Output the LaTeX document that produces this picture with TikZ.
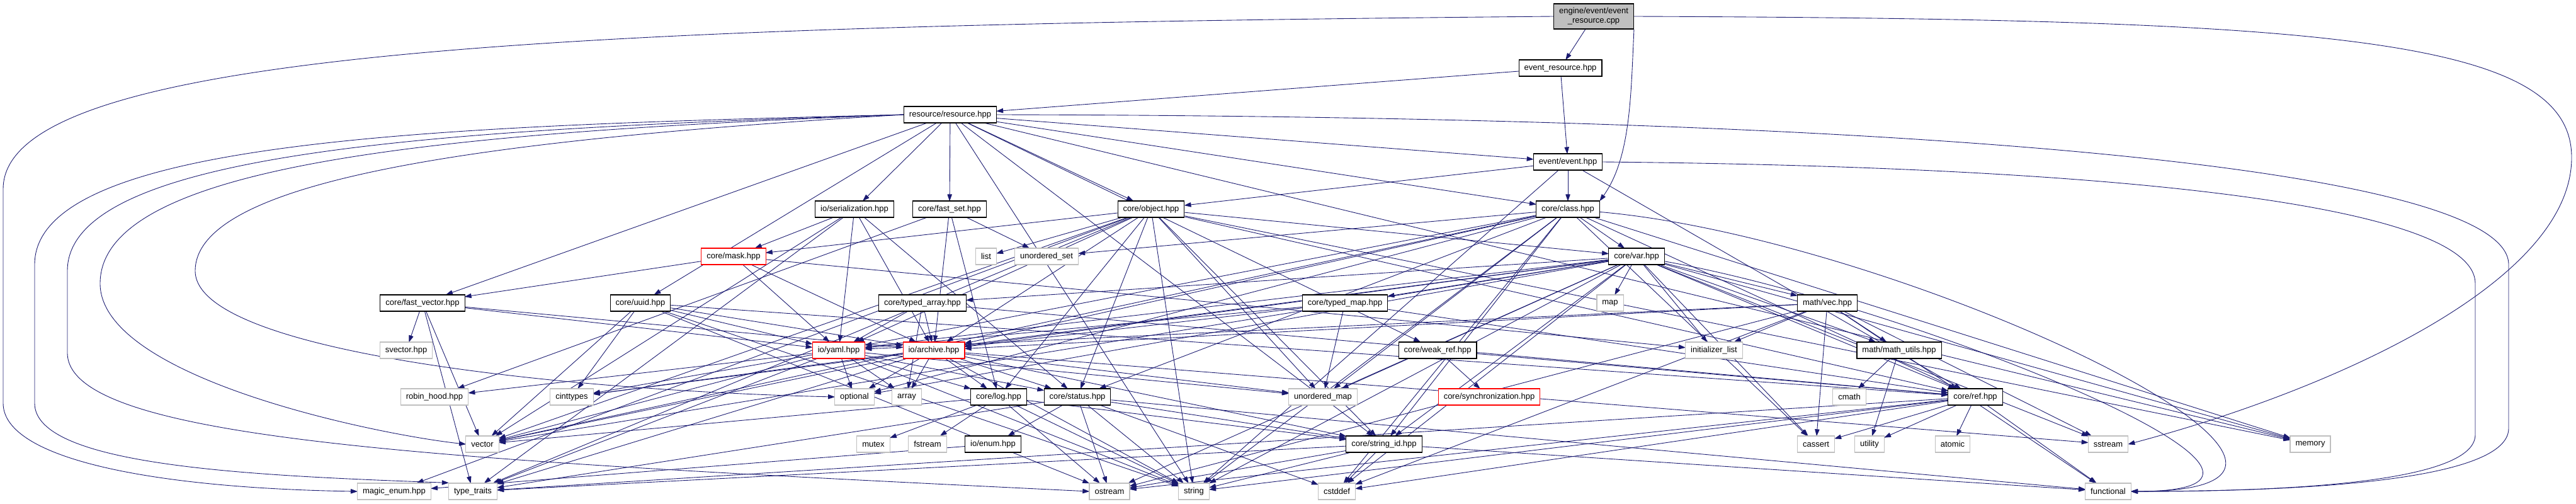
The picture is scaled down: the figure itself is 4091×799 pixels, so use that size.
\documentclass[tikz,border=0pt]{standalone}
\usepackage{fontspec}
\setmainfont{Liberation Sans}
\usepackage{tikz}
\usetikzlibrary{arrows.meta}
\definecolor{edgeblue}{RGB}{25,25,112}
\definecolor{sysgray}{RGB}{191,191,191}
\pgfdeclarelayer{bg}
\pgfsetlayers{bg,main}

\begin{document}
\begin{tikzpicture}[x=0.02cm, y=-0.02cm, ->, >={Stealth[round, inset=0pt, length=2.2mm, width=1.5mm]}, main/.style = {rectangle, draw=black, fill=white, line width=0.6pt, minimum height=0.52cm, inner xsep=0.17cm, inner ysep=0pt, font=\fontsize{7.4}{8.6}\selectfont}, sys/.style = {main, draw=sysgray, line width=0.7pt}, trunc/.style = {main, draw=red}, src/.style = {main, fill=sysgray, align=center, minimum height=0.8cm, inner ysep=0.1cm}, every edge/.append style={draw=edgeblue, line width=0.5pt}, longway/.style = {draw=edgeblue, line width=0.5pt}]
\useasboundingbox (0,0) rectangle (4091,799);

\node[src] (1) at (2531,26) {engine/event/event\\\_resource.cpp};
\node[main] (2) at (2478,108) {event\_resource.hpp};
\node[main] (3) at (1509,182) {resource/resource.hpp};
\node[main] (4) at (2490,257) {event/event.hpp};
\node[main] (5) at (1357,332) {io/serialization.hpp};
\node[main] (6) at (1508,332) {core/fast\_set.hpp};
\node[main] (7) at (1828,332) {core/object.hpp};
\node[main] (8) at (2490,332) {core/class.hpp};
\node[trunc] (9) at (1165,407) {core/mask.hpp};
\node[sys] (10) at (1566,407) {list};
\node[sys] (11) at (1662,407) {unordered\_set};
\node[main] (12) at (2599,407) {core/var.hpp};
\node[main] (13) at (671,481) {core/fast\_vector.hpp};
\node[main] (14) at (1017,481) {core/uuid.hpp};
\node[main] (15) at (1465,481) {core/typed\_array.hpp};
\node[main] (16) at (2136,481) {core/typed\_map.hpp};
\node[sys] (17) at (2557,481) {map};
\node[main] (18) at (2902,481) {math/vec.hpp};
\node[sys] (19) at (645,556) {svector.hpp};
\node[trunc] (20) at (1332,556) {io/yaml.hpp};
\node[trunc] (21) at (1483,556) {io/archive.hpp};
\node[main] (22) at (2283,556) {core/weak\_ref.hpp};
\node[sys] (23) at (2722,556) {initializer\_list};
\node[main] (24) at (3016,556) {math/math\_utils.hpp};
\node[sys] (25) at (690,630) {robin\_hood.hpp};
\node[sys] (26) at (908,630) {cinttypes};
\node[sys] (27) at (1357,630) {optional};
\node[sys] (28) at (1440,630) {array};
\node[main] (29) at (1586,630) {core/log.hpp};
\node[main] (30) at (1711,630) {core/status.hpp};
\node[sys] (31) at (2101,630) {unordered\_map};
\node[trunc] (32) at (2365,630) {core/synchronization.hpp};
\node[sys] (33) at (2937,630) {cmath};
\node[main] (34) at (3137,630) {core/ref.hpp};
\node[sys] (35) at (766,705) {vector};
\node[sys] (36) at (1387,705) {mutex};
\node[sys] (37) at (1473,705) {fstream};
\node[main] (38) at (1577,705) {io/enum.hpp};
\node[main] (39) at (2198,705) {core/string\_id.hpp};
\node[sys] (40) at (2884,705) {cassert};
\node[sys] (41) at (2969,705) {utility};
\node[sys] (42) at (3101,705) {atomic};
\node[sys] (43) at (3348,705) {sstream};
\node[sys] (44) at (3669,705) {memory};
\node[sys] (45) at (626,780) {magic\_enum.hpp};
\node[sys] (46) at (751,780) {type\_traits};
\node[sys] (47) at (1762,780) {ostream};
\node[sys] (48) at (1896,780) {string};
\node[sys] (49) at (2123,780) {cstddef};
\node[sys] (50) at (3348,780) {functional};

\begin{pgfonlayer}{bg}
\path (1) edge (2);
\path (2) edge (3) edge (4);
\path (3) edge (5) edge (6) edge (7) edge (8) edge (4) edge (22) edge (13) edge (14) edge (39) edge (48) edge (44);
\path (4) edge (7) edge (8) edge (34) edge (48);
\path (5) edge (9) edge (20) edge (21) edge (30) edge (35) edge (46);
\path (6) edge (11) edge (21) edge (25) edge (29);
\path (7) edge (10) edge (12) edge (20) edge (21) edge (29) edge (30) edge (39) edge (31) edge (48) edge (34) edge (35) edge (46) edge (44) edge (9) edge (45);
\path (8) edge (12) edge (11) edge (20) edge (21) edge (30) edge (31) edge (39) edge (34) edge (44) edge (49) edge (48) edge (27) edge (35) edge (40) edge[out=-5, in=0, looseness=1.3] (50);
\path (9) edge (13) edge (20) edge (21) edge (23);
\path (12) edge (17) edge (15) edge (16) edge (18) edge (24) edge (23) edge (20) edge (21) edge (26) edge (35) edge (39) edge (34) edge (47) edge (48) edge (49) edge (43) edge (44) edge (40) edge (27) edge (31) edge[out=-10, in=0, looseness=1.2] (50);
\path (13) edge (19) edge (20) edge (21) edge (35) edge (46);
\path (14) edge (26) edge (20) edge (21) edge (48) edge (35) edge (47) edge (34);
\path (15) edge (20) edge (21) edge (34) edge (28);
\path (16) edge (31) edge (20) edge (21) edge (34);
\path (18) edge (23) edge (24) edge (40) edge (43) edge (50) edge (20) edge (21) edge (47) edge (49);
\path (20) edge (25) edge (26) edge (27) edge (28) edge (35) edge (46) edge (30) edge (29) edge (31) edge (48);
\path (21) edge (27) edge (28) edge (29) edge (30) edge (31) edge (35) edge (26) edge (39) edge (46) edge (48) edge (43);
\path (22) edge (32) edge (34);
\path (24) edge (33) edge (41);
\path (29) edge (36) edge (37) edge (47) edge (48) edge (39) edge (35);
\path (30) edge (38) edge (47) edge (48) edge (49) edge (39) edge (46) edge (50);
\path (34) edge (40) edge (41) edge (42) edge (50) edge (48) edge (49) edge (47) edge (46);
\path (38) edge (45);
\path (39) edge (47) edge (48) edge (49) edge (50) edge (46);

% long ways round the left and right sides
\draw[longway] (1.south east) .. controls (2590,150) and (2590,250) .. (8.north east);
\draw[longway] (1.west) .. controls (900,40) and (5,80) .. (5,300) -- (5,640) .. controls (5,730) and (250,775) .. (45.west);
\draw[longway] (3.west) .. controls (700,200) and (55,220) .. (55,420) -- (55,640) .. controls (55,740) and (400,755) .. (46.north west);
\draw[longway] (3.west) .. controls (700,205) and (107,240) .. (107,430) -- (107,560) .. controls (107,700) and (700,730) .. (47.west);
\draw[longway] (3.west) .. controls (700,210) and (159,260) .. (159,450) .. controls (159,600) and (600,690) .. (35.west);
\draw[longway] (3.west) .. controls (800,220) and (310,280) .. (310,430) .. controls (310,560) and (900,620) .. (27.west);
\draw[longway] (1.east) .. controls (3700,30) and (4084,60) .. (4084,250) .. controls (4084,450) and (3700,620) .. (43.east);
\draw[longway] (3.east) .. controls (3200,185) and (3984,280) .. (3984,420) -- (3984,680) .. controls (3984,770) and (3600,780) .. (50.east);
\draw[longway] (4.east) .. controls (3400,265) and (3931,330) .. (3931,450) -- (3931,690) .. controls (3931,770) and (3600,780) .. (50.east);
\end{pgfonlayer}
\end{tikzpicture}
\end{document}
